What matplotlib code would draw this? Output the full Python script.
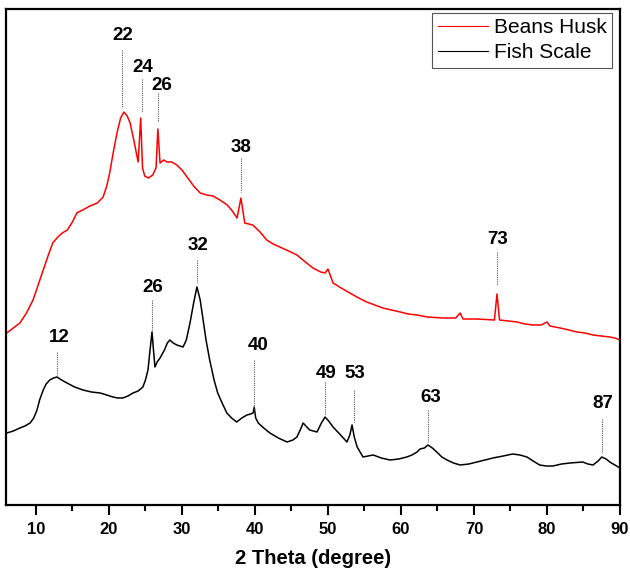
"""XRD patterns of beans husk and fish scale adsorbents.

Intensities are read off the published figure (arbitrary units), sampled
at the points where the trace changes shape.
"""

import matplotlib

matplotlib.use("Agg")
import matplotlib.pyplot as plt
from matplotlib.ticker import MultipleLocator

# --- data -------------------------------------------------------------------
husk_theta = [
    6.0, 6.9, 7.8, 8.7, 9.6, 10.3, 11.0, 11.7, 12.3, 13.0, 13.6, 14.3,
    15.0, 15.6, 16.4, 17.4, 18.4, 19.2, 19.7, 20.1, 20.6, 21.1, 21.6,
    22.05, 22.5, 22.9, 23.4, 24.0, 24.35, 24.6, 24.9, 25.4, 26.0, 26.45,
    26.7, 27.0, 27.5, 27.95, 28.6, 29.3, 30.0, 30.7, 31.6, 32.5, 33.4,
    34.25, 35.2, 36.2, 36.9, 37.55, 38.08, 38.6, 39.7, 40.7, 41.6, 42.5,
    43.4, 44.6, 45.75, 46.9, 47.95, 49.0, 49.6, 50.0, 50.7, 51.8, 53.0,
    54.2, 55.3, 56.4, 57.5, 58.7, 59.9, 61.0, 62.2, 63.6, 65.75, 67.5,
    68.1, 68.5, 70.4, 72.8, 73.15, 73.5, 74.7, 75.9, 77.0, 78.1, 79.2,
    80.0, 80.4, 81.8, 83.0, 84.1, 85.2, 86.3, 87.4, 88.6, 89.3, 90.0,
]
husk_intensity = [
    172, 177, 182, 192, 205, 220, 235, 250, 262, 268, 272, 275,
    283, 292, 295, 299, 302, 308, 319, 332, 353, 372, 387,
    393, 389, 382, 365, 343, 387, 337, 329, 327, 330, 337,
    376, 342, 345, 343, 343, 340, 335, 328, 319, 312, 310,
    309, 305, 300, 294, 287, 307, 282, 280, 273, 265, 261,
    258, 254, 250, 243, 237, 233, 232, 236, 222, 217, 212,
    207, 203, 200, 197, 195, 193, 191, 190, 188, 187, 187,
    192, 186, 186, 185, 211, 185, 184, 183, 181, 180, 180,
    183, 179, 177, 175, 173, 172, 170, 169, 168, 167, 165,
]

fish_theta = [
    6.0, 6.9, 7.8, 8.5, 9.2, 9.7, 10.15, 10.5, 11.0, 11.4, 11.9, 12.4,
    12.9, 13.5, 14.25, 15.3, 16.45, 17.6, 18.8, 19.7, 20.55, 21.2, 21.9,
    22.6, 23.3, 24.0, 24.65, 25.0, 25.35, 25.6, 25.9, 26.1, 26.3, 26.6,
    27.0, 27.6, 28.0, 28.35, 28.8, 29.3, 30.15, 30.6, 31.1, 31.6, 32.05,
    32.5, 32.9, 33.3, 33.8, 34.4, 34.9, 35.5, 36.15, 36.8, 37.5, 38.2,
    38.9, 39.4, 39.75, 39.9, 40.1, 40.45, 41.2, 42.05, 43.2, 44.4, 45.2,
    45.75, 46.2, 46.6, 47.1, 47.5, 48.0, 48.5, 49.1, 49.6, 50.1, 50.7,
    51.6, 52.6, 53.0, 53.3, 53.6, 54.0, 54.8, 55.5, 56.2, 57.3, 58.5,
    59.7, 60.8, 61.5, 62.2, 62.6, 63.2, 63.7, 64.3, 64.9, 65.6, 66.3,
    67.2, 68.1, 69.3, 70.4, 71.5, 72.6, 74.0, 75.3, 76.3, 77.25, 78.1,
    79.0, 79.9, 80.8, 82.0, 83.15, 84.9, 85.6, 86.3, 87.0, 87.5, 88.1,
    88.6, 89.3, 90.0,
]
fish_intensity = [
    72, 74, 77, 79, 82, 87, 95, 105, 115, 121, 125, 127,
    128, 125, 122, 118, 115, 113, 112, 110, 108, 107, 107,
    109, 112, 114, 118, 125, 135, 153, 173, 155, 138, 143,
    147, 155, 162, 165, 162, 160, 158, 165, 182, 202, 218,
    205, 185, 165, 145, 125, 112, 102, 92, 87, 83, 87,
    90, 91, 92, 98, 87, 82, 77, 72, 67, 63, 65,
    68, 75, 82, 78, 75, 74, 73, 82, 88, 84, 78,
    71, 63, 70, 80, 68, 58, 48, 49, 50, 47, 45,
    46, 48, 50, 53, 56, 57, 60, 57, 53, 48, 45,
    42, 40, 41, 43, 45, 47, 49, 51, 50, 48, 44,
    40, 39, 39, 41, 42, 43, 41, 40, 44, 48, 46,
    43, 40, 37,
]

# peak labels: text, 2-theta of the marker line
peak_labels = ["22", "24", "26", "38", "73",
               "26", "32", "12", "40", "49", "53", "63", "87"]
peak_theta = [21.85, 24.55, 26.7, 38.08, 73.15,
              25.9, 32.05, 12.9, 39.85, 49.6, 53.55, 63.7, 87.5]

# --- layout (same arbitrary intensity units as above) -----------------------
# text x offset, text y, line top, line bottom
label_dx = [0.0, 0.1, 0.55, 0.0, 0.15, 0.15, 0.1, 0.25, 0.65, 0.1, 0.15, 0.4, 0.15]
label_y = [469, 438, 420, 358, 265, 217, 259, 167, 160, 132, 132, 108, 102]
line_top = [455, 426, 412, 347, 253, 205, 245, 153, 145, 123, 115, 95, 86]
line_bot = [397, 393, 383, 313, 220, 173, 222, 130, 92, 90, 83, 63, 52]

FONT = "Liberation Sans"

plt.rcParams["font.family"] = [FONT, "DejaVu Sans"]

fig = plt.figure(figsize=(6.3, 5.75), dpi=100)
ax = fig.add_axes([6 / 630, 1 - 505 / 575, 614 / 630, 496 / 575])

ax.plot(husk_theta, husk_intensity, color="#ff0000", linewidth=1.1, label="Beans Husk")
ax.plot(fish_theta, fish_intensity, color="#000000", linewidth=1.1, label="Fish Scale")

for txt, x, dx, ty, y0, y1 in zip(peak_labels, peak_theta, label_dx, label_y, line_top, line_bot):
    ax.plot([x, x], [y0, y1], color="#555555", linestyle=(0, (1, 1)), linewidth=0.8)
    ax.text(x + dx, ty, txt, ha="center", va="center", fontsize=13.5, fontweight="bold")

ax.set_xlim(5.9, 90)
ax.set_ylim(0, 496)
ax.xaxis.set_major_locator(MultipleLocator(10))
ax.xaxis.set_minor_locator(MultipleLocator(5))
ax.tick_params(axis="x", which="major", direction="out", length=7, width=1.5, pad=5,
               labelsize=12)
ax.tick_params(axis="x", which="minor", direction="out", length=4, width=1.5)
ax.set_yticks([])
for lbl in ax.get_xticklabels():
    lbl.set_fontweight("bold")
for sp in ax.spines.values():
    sp.set_linewidth(1.6)

ax.set_xlabel("2 Theta (degree)", fontsize=14.5, fontweight="bold", labelpad=9)

leg = ax.legend(loc="upper right", bbox_to_anchor=(0.987, 0.992), borderaxespad=0,
                fontsize=15, handlelength=2.4, handletextpad=0.3, labelspacing=0.3,
                borderpad=0.25, fancybox=False, framealpha=1)
leg.get_frame().set_edgecolor("#555555")
leg.get_frame().set_linewidth(0.8)
for line in leg.get_lines():
    line.set_linewidth(0.8)

fig.savefig("out.png", dpi=100)
